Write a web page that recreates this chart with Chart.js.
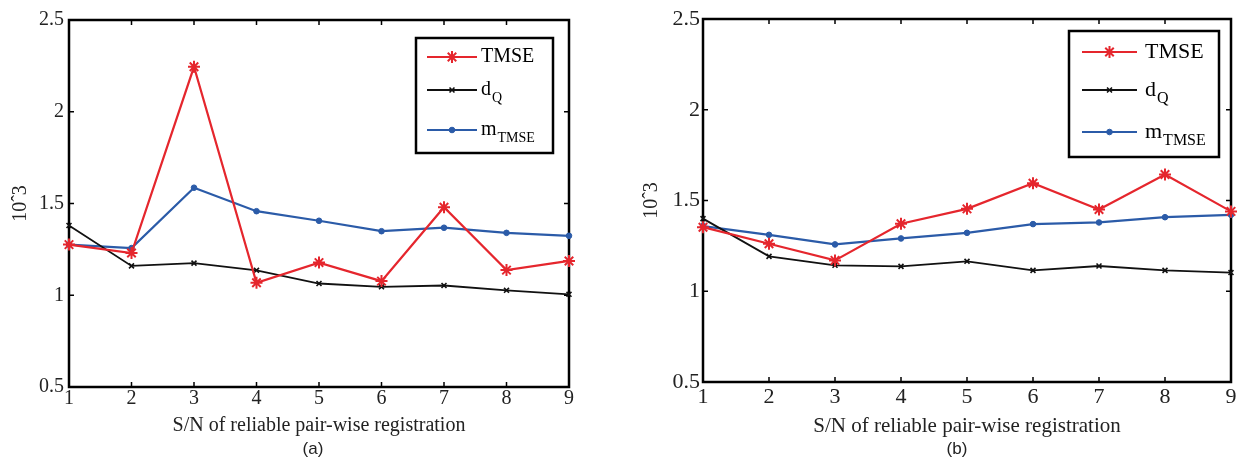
<!DOCTYPE html>
<html>
<meta charset="UTF-8">
<script src="https://cdn.jsdelivr.net/npm/chart.js"></script>
<head>
    <title>TMSE / dQ / mTMSE</title>
    <style>
        body { margin: 0; background: #fff; }
        #wrap { position: relative; width: 1245px; height: 458px; }
        #left { position: absolute; left: 0; top: 0; }
        #right { position: absolute; left: 620px; top: 0; }
    </style>
</head>
<body>
<div id="wrap">
    <canvas id="left" width="620" height="458"></canvas>
    <canvas id="right" width="625" height="458"></canvas>
</div>
<script>
    // x positions (S/N) and y ticks
    const snLabels = [1, 2, 3, 4, 5, 6, 7, 8, 9];
    const yTicks = [0.5, 1, 1.5, 2, 2.5];

    // panel (a)
    const tmseA  = [1.276, 1.23, 2.245, 1.068, 1.178, 1.077, 1.48, 1.137, 1.187];
    const dqA    = [1.38, 1.16, 1.175, 1.136, 1.064, 1.046, 1.053, 1.027, 1.005];
    const mtmseA = [1.276, 1.257, 1.586, 1.458, 1.406, 1.349, 1.368, 1.34, 1.324];

    // panel (b)
    const tmseB  = [1.353, 1.262, 1.17, 1.372, 1.454, 1.595, 1.45, 1.643, 1.44];
    const dqB    = [1.40, 1.192, 1.143, 1.137, 1.165, 1.115, 1.139, 1.115, 1.103];
    const mtmseB = [1.359, 1.311, 1.258, 1.291, 1.322, 1.37, 1.379, 1.408, 1.421];

    // legend names: main text + subscript
    const seriesNames = ['TMSE', 'd', 'm'];
    const seriesSubs = ['', 'Q', 'TMSE'];

    const RED = '#e5262d', BLACK = '#111111', BLUE = '#2b5ba8';
    const SERIF = '"Liberation Serif", "Times New Roman", serif';

    // box + inward ticks, matlab style
    const framePlugin = {
        id: 'frame',
        beforeDatasetsDraw(chart) {
            const {ctx, chartArea: a, scales: {x, y}} = chart;
            ctx.save();
            ctx.strokeStyle = '#000';
            ctx.lineWidth = 1.5;
            ctx.beginPath();
            x.ticks.forEach((t, i) => {
                const px = x.getPixelForTick(i);
                ctx.moveTo(px, a.bottom); ctx.lineTo(px, a.bottom - 5);
                ctx.moveTo(px, a.top); ctx.lineTo(px, a.top + 5);
            });
            y.ticks.forEach(t => {
                const py = y.getPixelForValue(t.value);
                ctx.moveTo(a.left, py); ctx.lineTo(a.left + 5, py);
                ctx.moveTo(a.right, py); ctx.lineTo(a.right - 5, py);
            });
            ctx.stroke();
            ctx.lineWidth = 2.5;
            ctx.strokeRect(a.left, a.top, a.right - a.left, a.bottom - a.top);
            ctx.restore();
        },
        afterDraw(chart, args, opts) {
            const ctx = chart.ctx;
            const lg = opts.legend;
            ctx.save();
            // legend box
            ctx.fillStyle = '#fff';
            ctx.fillRect(lg.x0, lg.y0, lg.x1 - lg.x0, lg.y1 - lg.y0);
            ctx.strokeStyle = '#000';
            ctx.lineWidth = 2.5;
            ctx.strokeRect(lg.x0, lg.y0, lg.x1 - lg.x0, lg.y1 - lg.y0);
            chart.data.datasets.forEach((ds, i) => {
                const yy = lg.rows[i];
                ctx.strokeStyle = ds.borderColor;
                ctx.lineWidth = ds.borderWidth;
                ctx.beginPath();
                ctx.moveTo(lg.lx0, yy); ctx.lineTo(lg.lx1, yy);
                ctx.stroke();
                ctx.fillStyle = ds.pointBackgroundColor;
                ctx.strokeStyle = ds.pointBorderColor;
                ctx.lineWidth = ds.pointBorderWidth;
                Chart.helpers.drawPoint(ctx, {pointStyle: ds.pointStyle, rotation: 0, radius: ds.pointRadius, borderWidth: ds.pointBorderWidth}, (lg.lx0 + lg.lx1) / 2, yy);
                ctx.fillStyle = '#000';
                ctx.textBaseline = 'middle';
                ctx.textAlign = 'left';
                ctx.font = lg.size + 'px ' + SERIF;
                ctx.fillText(seriesNames[i], lg.tx, yy);
                if (seriesSubs[i]) {
                    const w = ctx.measureText(seriesNames[i]).width;
                    ctx.font = Math.round(lg.size * 0.72) + 'px ' + SERIF;
                    ctx.fillText(seriesSubs[i], lg.tx + w + 1, yy + lg.size * 0.42);
                }
            });
            // panel caption
            ctx.font = '17px "Liberation Sans", Arial, sans-serif';
            ctx.textAlign = 'center';
            ctx.textBaseline = 'middle';
            ctx.fillStyle = '#222';
            ctx.fillText(opts.caption.text, opts.caption.x, opts.caption.y);
            ctx.restore();
        }
    };

    function makeDatasets(tmse, dq, mtmse) {
        return [
            {label: 'TMSE', data: tmse, borderColor: RED, borderWidth: 2.2, pointStyle: 'star',
                pointRadius: 6, pointBorderWidth: 2, pointBackgroundColor: RED, pointBorderColor: RED},
            {label: 'dQ', data: dq, borderColor: BLACK, borderWidth: 1.8, pointStyle: 'crossRot',
                pointRadius: 3.5, pointBorderWidth: 1.6, pointBackgroundColor: BLACK, pointBorderColor: BLACK},
            {label: 'mTMSE', data: mtmse, borderColor: BLUE, borderWidth: 2.2, pointStyle: 'circle',
                pointRadius: 2.8, pointBorderWidth: 1, pointBackgroundColor: BLUE, pointBorderColor: BLUE}
        ];
    }

    function makeChart(id, datasets, cfg) {
        return new Chart(document.getElementById(id), {
            type: 'line',
            data: {labels: snLabels, datasets: datasets},
            options: {
                responsive: false,
                animation: false,
                devicePixelRatio: 1,
                clip: false,
                elements: {line: {tension: 0}},
                layout: {padding: {top: cfg.top, right: cfg.right, left: 0, bottom: 0}},
                plugins: {
                    legend: {display: false},
                    tooltip: {enabled: false},
                    frame: {legend: cfg.legend, caption: cfg.caption}
                },
                scales: {
                    x: {
                        offset: false,
                        grid: {display: false, drawTicks: false},
                        border: {display: false},
                        ticks: {color: '#222', padding: cfg.xTickPad, font: {family: SERIF, size: cfg.tickSize}, maxRotation: 0, autoSkip: false},
                        title: {display: true, text: 'S/N of reliable pair-wise registration', color: '#222',
                            font: {family: SERIF, size: cfg.titleSize}, padding: {top: 0, bottom: cfg.titlePad}},
                        afterFit(s) { s.height = cfg.xHeight; }
                    },
                    y: {
                        min: 0.5, max: 2.5,
                        grid: {display: false, drawTicks: false},
                        border: {display: false},
                        afterBuildTicks(s) { s.ticks = yTicks.map(v => ({value: v})); },
                        ticks: {color: '#222', padding: cfg.yTickPad, font: {family: SERIF, size: cfg.tickSize},
                            callback: v => String(v)},
                        title: {display: true, text: '10ˆ3', color: '#222',
                            font: {family: SERIF, size: 20}, padding: {top: cfg.yTitlePad, bottom: 0}},
                        afterFit(s) { s.width = cfg.yWidth; }
                    }
                }
            },
            plugins: [framePlugin]
        });
    }

    makeChart('left', makeDatasets(tmseA, dqA, mtmseA), {
        top: 20, right: 51, yWidth: 69, xHeight: 71,
        tickSize: 20, titleSize: 20, titlePad: 20, xTickPad: 0, yTickPad: 5, yTitlePad: 9,
        legend: {x0: 416, y0: 38, x1: 553, y1: 153, lx0: 427, lx1: 477, tx: 481, rows: [57, 90, 130], size: 20},
        caption: {text: '(a)', x: 313, y: 449}
    });

    makeChart('right', makeDatasets(tmseB, dqB, mtmseB), {
        top: 19, right: 14, yWidth: 83, xHeight: 76,
        tickSize: 22, titleSize: 21, titlePad: 19, xTickPad: 2, yTickPad: 3, yTitlePad: 20,
        legend: {x0: 449, y0: 31, x1: 599, y1: 157, lx0: 462, lx1: 517, tx: 525, rows: [52, 90, 132], size: 22},
        caption: {text: '(b)', x: 337, y: 449}
    });
</script>
</body>
</html>
